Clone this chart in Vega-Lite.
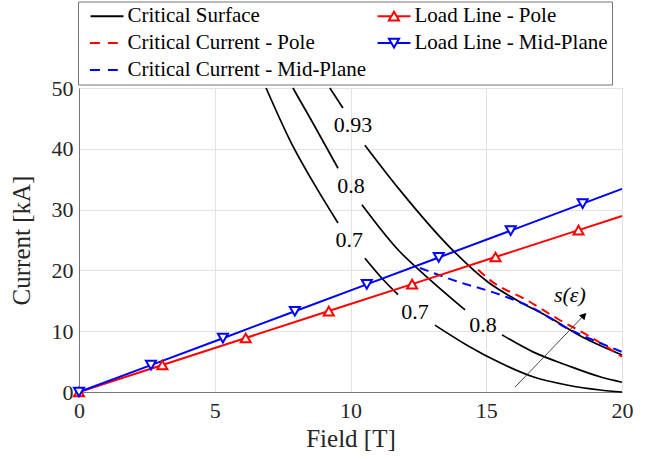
{
  "$schema": "https://vega.github.io/schema/vega-lite/v6.json",
  "width": 543,
  "height": 304,
  "autosize": {"type": "none"},
  "padding": {"left": 79, "top": 88, "right": 32, "bottom": 67},
  "background": "white",
  "config": {
    "view": {"stroke": "#777777", "strokeWidth": 1},
    "font": "Liberation Serif",
    "axis": {
      "labelFont": "Liberation Serif",
      "titleFont": "Liberation Serif",
      "labelFontSize": 22,
      "titleFontSize": 25,
      "titleFontWeight": "normal",
      "labelColor": "#262626",
      "titleColor": "#262626",
      "domainColor": "#777777",
      "gridColor": "#e3e3e3",
      "ticks": false,
      "labelFlush": false
    }
  },
  "datasets": {
    "surface": [
      {"series": "Critical Surface", "seg": "A1", "field": 6.89, "current": 50},
      {"series": "Critical Surface", "seg": "A1", "field": 7.77, "current": 41.4},
      {"series": "Critical Surface", "seg": "A1", "field": 8.77, "current": 33.4},
      {"series": "Critical Surface", "seg": "A1", "field": 9.54, "current": 27.8},
      {"series": "Critical Surface", "seg": "A2", "field": 10.53, "current": 22.0},
      {"series": "Critical Surface", "seg": "A2", "field": 11.2, "current": 18.5},
      {"series": "Critical Surface", "seg": "A2", "field": 11.75, "current": 16.0},
      {"series": "Critical Surface", "seg": "A3", "field": 13.11, "current": 11.0},
      {"series": "Critical Surface", "seg": "A3", "field": 14.29, "current": 7.7},
      {"series": "Critical Surface", "seg": "A3", "field": 15.51, "current": 4.8},
      {"series": "Critical Surface", "seg": "A3", "field": 16.72, "current": 2.5},
      {"series": "Critical Surface", "seg": "A3", "field": 17.97, "current": 1.15},
      {"series": "Critical Surface", "seg": "A3", "field": 19.19, "current": 0.33},
      {"series": "Critical Surface", "seg": "A3", "field": 20, "current": 0},
      {"series": "Critical Surface", "seg": "B1", "field": 7.88, "current": 50},
      {"series": "Critical Surface", "seg": "B1", "field": 8.62, "current": 44.2},
      {"series": "Critical Surface", "seg": "B1", "field": 9.54, "current": 36.8},
      {"series": "Critical Surface", "seg": "B2", "field": 10.42, "current": 30.8},
      {"series": "Critical Surface", "seg": "B2", "field": 11.75, "current": 23.4},
      {"series": "Critical Surface", "seg": "B2", "field": 12.82, "current": 18.9},
      {"series": "Critical Surface", "seg": "B2", "field": 14.22, "current": 13.5},
      {"series": "Critical Surface", "seg": "B3", "field": 15.58, "current": 9.4},
      {"series": "Critical Surface", "seg": "B3", "field": 16.72, "current": 6.6},
      {"series": "Critical Surface", "seg": "B3", "field": 17.97, "current": 4.4},
      {"series": "Critical Surface", "seg": "B3", "field": 19.19, "current": 2.5},
      {"series": "Critical Surface", "seg": "B3", "field": 20, "current": 1.6},
      {"series": "Critical Surface", "seg": "C1", "field": 9.24, "current": 50},
      {"series": "Critical Surface", "seg": "C1", "field": 9.72, "current": 46.7},
      {"series": "Critical Surface", "seg": "C2", "field": 10.53, "current": 40.6},
      {"series": "Critical Surface", "seg": "C2", "field": 11.82, "current": 33.2},
      {"series": "Critical Surface", "seg": "C2", "field": 13.66, "current": 23.8},
      {"series": "Critical Surface", "seg": "C2", "field": 15.06, "current": 18.1},
      {"series": "Critical Surface", "seg": "C2", "field": 16.13, "current": 15.1},
      {"series": "Critical Surface", "seg": "C2", "field": 17.35, "current": 12.2},
      {"series": "Critical Surface", "seg": "C2", "field": 18.56, "current": 9.0},
      {"series": "Critical Surface", "seg": "C2", "field": 20, "current": 6.1}
    ],
    "critical": [
      {"series": "Critical Current - Pole", "field": 14.7, "current": 20.1},
      {"series": "Critical Current - Pole", "field": 15.14, "current": 18.4},
      {"series": "Critical Current - Pole", "field": 16.5, "current": 15.1},
      {"series": "Critical Current - Pole", "field": 17.72, "current": 11.8},
      {"series": "Critical Current - Pole", "field": 18.71, "current": 9.4},
      {"series": "Critical Current - Pole", "field": 20, "current": 5.8},
      {"series": "Critical Current - Mid-Plane", "field": 12.56, "current": 20.4},
      {"series": "Critical Current - Mid-Plane", "field": 13.78, "current": 18.4},
      {"series": "Critical Current - Mid-Plane", "field": 15.51, "current": 16.0},
      {"series": "Critical Current - Mid-Plane", "field": 16.72, "current": 13.8},
      {"series": "Critical Current - Mid-Plane", "field": 17.97, "current": 10.5},
      {"series": "Critical Current - Mid-Plane", "field": 18.93, "current": 8.55},
      {"series": "Critical Current - Mid-Plane", "field": 20, "current": 6.6}
    ],
    "load": [
      {"series": "Load Line - Pole", "field": 0, "current": 0, "marker": true},
      {"series": "Load Line - Pole", "field": 3.07, "current": 4.44, "marker": true},
      {"series": "Load Line - Pole", "field": 6.14, "current": 8.88, "marker": true},
      {"series": "Load Line - Pole", "field": 9.2, "current": 13.31, "marker": true},
      {"series": "Load Line - Pole", "field": 12.27, "current": 17.75, "marker": true},
      {"series": "Load Line - Pole", "field": 15.34, "current": 22.2, "marker": true},
      {"series": "Load Line - Pole", "field": 18.4, "current": 26.62, "marker": true},
      {"series": "Load Line - Pole", "field": 20, "current": 28.94, "marker": false},
      {"series": "Load Line - Mid-Plane", "field": 0, "current": 0, "marker": true},
      {"series": "Load Line - Mid-Plane", "field": 2.65, "current": 4.42, "marker": true},
      {"series": "Load Line - Mid-Plane", "field": 5.3, "current": 8.85, "marker": true},
      {"series": "Load Line - Mid-Plane", "field": 7.95, "current": 13.28, "marker": true},
      {"series": "Load Line - Mid-Plane", "field": 10.6, "current": 17.7, "marker": true},
      {"series": "Load Line - Mid-Plane", "field": 13.25, "current": 22.13, "marker": true},
      {"series": "Load Line - Mid-Plane", "field": 15.9, "current": 26.55, "marker": true},
      {"series": "Load Line - Mid-Plane", "field": 18.55, "current": 30.98, "marker": true},
      {"series": "Load Line - Mid-Plane", "field": 20, "current": 33.4, "marker": false}
    ],
    "levels": [
      {"label": "0.93", "field": 10.09, "current": 43.9},
      {"label": "0.8", "field": 10.02, "current": 33.9},
      {"label": "0.7", "field": 9.95, "current": 25.0},
      {"label": "0.7", "field": 12.38, "current": 13.2},
      {"label": "0.8", "field": 14.88, "current": 11.0}
    ],
    "arrow": [
      {"field": 16.06, "current": 0.8, "field2": 18.66, "current2": 12.9, "headField": 18.6, "headCurrent": 12.6, "label": "s(ε)", "labelField": 18.08, "labelCurrent": 16.0}
    ]
  },
  "encoding": {
    "x": {
      "field": "field",
      "type": "quantitative",
      "scale": {"domain": [0, 20], "nice": false},
      "axis": {"title": "Field [T]", "values": [0, 5, 10, 15, 20], "labelPadding": 8, "titlePadding": 5}
    },
    "y": {
      "field": "current",
      "type": "quantitative",
      "scale": {"domain": [0, 50], "nice": false},
      "axis": {"title": "Current [kA]", "values": [0, 10, 20, 30, 40, 50], "labelPadding": 6, "titlePadding": 17}
    }
  },
  "layer": [
    {
      "data": {"name": "surface"},
      "mark": {"type": "line", "interpolate": "monotone", "strokeWidth": 1.7},
      "encoding": {
        "detail": {"field": "seg"},
        "color": {
          "field": "series",
          "type": "nominal",
          "scale": {
            "domain": ["Critical Surface", "Critical Current - Pole", "Critical Current - Mid-Plane", "Load Line - Pole", "Load Line - Mid-Plane"],
            "range": ["#000000", "#ff0000", "#0000ff", "#ff0000", "#0000ff"]
          },
          "legend": {
            "title": null,
            "orient": "none",
            "legendX": -1,
            "legendY": -86.5,
            "columns": 2,
            "columnPadding": 2,
            "rowPadding": 5,
            "padding": 4,
            "strokeColor": "#777777",
            "fillColor": "white",
            "labelFont": "Liberation Serif",
            "labelFontSize": 21,
            "labelColor": "#000000",
            "labelOffset": 10,
            "labelLimit": 400,
            "symbolSize": 324,
            "symbolStrokeWidth": 2,
            "symbolOffset": 14.5,
            "encode": {
              "symbols": {
                "update": {
                  "shape": {"signal": "datum.value === 'Load Line - Pole' ? 'M-1.83,0H-0.3M0.3,0H1.83M0,-0.5L0.56,0.46L-0.56,0.46Z' : datum.value === 'Load Line - Mid-Plane' ? 'M-1.83,0H-0.3M0.3,0H1.83M0,0.5L0.56,-0.46L-0.56,-0.46Z' : indexof(datum.value, 'Critical Current') === 0 ? 'M-1.9,0H1.2' : 'M-1.83,0H1.83'"},
                  "strokeDash": {"signal": "indexof(datum.value, 'Critical Current') === 0 ? [10, 8] : [1, 0]"},
                  "fill": {"value": "white"},
                  "fillOpacity": {"value": 1},
                  "strokeWidth": {"value": 2},
                  "opacity": {"value": 1}
                }
              }
            }
          }
        }
      }
    },
    {
      "data": {"name": "critical"},
      "mark": {"type": "line", "interpolate": "monotone", "strokeWidth": 2, "strokeDash": [9, 6]},
      "encoding": {
        "color": {"field": "series", "type": "nominal"}
      }
    },
    {
      "data": {"name": "load"},
      "mark": {"type": "line", "strokeWidth": 2},
      "encoding": {
        "color": {"field": "series", "type": "nominal"}
      }
    },
    {
      "data": {"name": "load"},
      "transform": [{"filter": "datum.marker"}],
      "mark": {"type": "point", "filled": true, "fill": "white", "strokeWidth": 2, "size": 100, "opacity": 1},
      "encoding": {
        "stroke": {
          "field": "series",
          "type": "nominal",
          "scale": {"domain": ["Load Line - Pole", "Load Line - Mid-Plane"], "range": ["#ff0000", "#0000ff"]},
          "legend": null
        },
        "shape": {
          "field": "series",
          "type": "nominal",
          "scale": {"domain": ["Load Line - Pole", "Load Line - Mid-Plane"], "range": ["triangle-up", "triangle-down"]},
          "legend": null
        }
      }
    },
    {
      "data": {"name": "levels"},
      "mark": {"type": "text", "font": "Liberation Serif", "fontSize": 22, "color": "#000000", "baseline": "middle", "align": "center"},
      "encoding": {
        "text": {"field": "label"}
      }
    },
    {
      "data": {"name": "arrow"},
      "mark": {"type": "rule", "color": "#333333", "strokeWidth": 0.9},
      "encoding": {
        "x2": {"field": "field2"},
        "y2": {"field": "current2"}
      }
    },
    {
      "data": {"name": "arrow"},
      "mark": {"type": "point", "shape": "triangle-up", "filled": true, "color": "#000000", "size": 55, "angle": 44, "opacity": 1},
      "encoding": {
        "x": {"field": "headField", "type": "quantitative"},
        "y": {"field": "headCurrent", "type": "quantitative"}
      }
    },
    {
      "data": {"name": "arrow"},
      "mark": {"type": "text", "font": "Liberation Serif", "fontSize": 22, "fontStyle": "italic", "color": "#000000", "baseline": "middle", "align": "center"},
      "encoding": {
        "x": {"field": "labelField", "type": "quantitative"},
        "y": {"field": "labelCurrent", "type": "quantitative"},
        "text": {"field": "label"}
      }
    }
  ]
}
